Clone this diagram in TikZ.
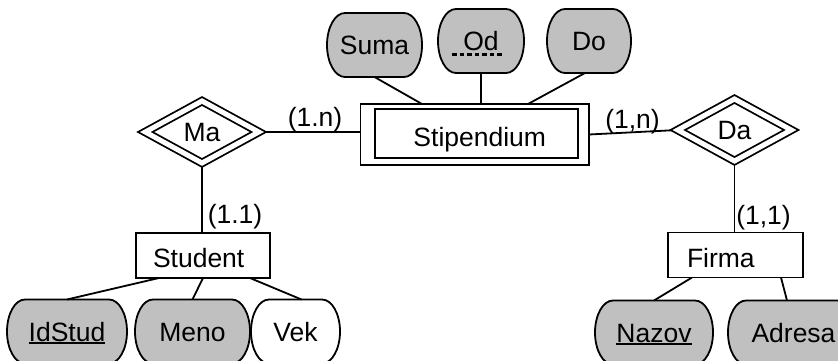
\documentclass[tikz,border=0pt]{standalone}
\usepackage{fontspec}
\setmainfont{Liberation Sans}
\usetikzlibrary{shapes.geometric,backgrounds}
\definecolor{attrgray}{RGB}{192,192,192}

% underlined key attribute
\newcommand\keyul[1]{\setbox0\hbox{#1}\rlap{\rule[-2.5pt]{\wd0}{1.6pt}}\box0}

% outline of an attribute: flat top and bottom, half-elliptic sides
\newcommand\attrshape[2]{%
  \draw[line width=1.8pt, fill=#2]
    ([xshift=18pt]#1.north west) -- ([xshift=-18pt]#1.north east)
    arc[start angle=-90, end angle=90, x radius=18, y radius=32]
    -- ([xshift=18pt]#1.south west)
    arc[start angle=90, end angle=270, x radius=18, y radius=32] -- cycle;}

\tikzset{
  every node/.style={font=\fontsize{26.5}{30}\selectfont, outer sep=0pt},
  conn/.style={line width=1.8pt},
  entity/.style={draw, rectangle, line width=1.8pt, fill=white, minimum height=45pt,
    text height=24pt, text depth=0pt, inner sep=0pt},
  relship/.style={draw, diamond, line width=1.8pt, double, double distance=5pt,
    fill=white, inner sep=0pt, minimum width=113.5pt, minimum height=62pt,
    text height=19pt, text depth=0pt},
  attrib/.style={rectangle, inner sep=0pt, minimum height=64pt,
    text height=19pt, text depth=0pt},
  card/.style={anchor=base, inner sep=0pt},
}

\begin{document}
\begin{tikzpicture}[x=1pt, y=-1pt]
\useasboundingbox (0,0) rectangle (838,361);

% entities
\node[entity, minimum width=228.5pt, minimum height=61pt] (stip) at (474.75,134.5) {\hspace*{10pt}Stipendium};
\draw[line width=1.8pt] ([shift={(14.5,5)}]stip.north west) rectangle ([shift={(-11,-7)}]stip.south east);
\node[entity, minimum width=134pt, text width=100pt, inner xsep=17pt, align=left] (student) at (203,255.5) {Student};
\node[entity, minimum width=135pt, text width=97pt, inner xsep=19pt, align=left] (firma) at (735.5,255) {Firma};

% relationships
\node[relship] (ma) at (202,132) {Ma};
\node[relship] (da) at (734.5,130) {Da};

% attributes
\node[attrib, minimum width=95pt]  (sumaA)   at (374.5,45)   {Suma};
\node[attrib, minimum width=86pt]  (odA)     at (481,41)     {Od};
\node[attrib, minimum width=84pt]  (doA)     at (589,41)     {Do};
\node[attrib, minimum width=120pt] (idstudA) at (67,331.5)   {\keyul{IdStud}};
\node[attrib, minimum width=115pt] (menoA)   at (192.5,331.5) {Meno};
\node[attrib, minimum width=89pt]  (vekA)    at (295.5,331.5) {Vek};
\node[attrib, minimum width=118pt] (nazovA)  at (654,332.5)  {\keyul{Nazov}};
\node[attrib, minimum width=131pt] (adresaA) at (793.5,332.5) {Adresa};

% dotted underline of the partial key
\draw[line width=3pt, dash pattern=on 4.5pt off 3pt]
  ([shift={(-29,14)}]odA.center) -- ([shift={(22,14)}]odA.center);

% cardinalities
\node[card] (c1) at (315,126)   {(1.n)};
\node[card] (c2) at (632.5,128) {(1,n)};
\node[card] (c3) at (235,223)   {(1.1)};
\node[card] (c4) at (763.5,224) {(1,1)};

\begin{scope}[on background layer]
  \attrshape{sumaA}{attrgray}
  \attrshape{odA}{attrgray}
  \attrshape{doA}{attrgray}
  \attrshape{idstudA}{attrgray}
  \attrshape{menoA}{attrgray}
  \attrshape{vekA}{white}
  \attrshape{nazovA}{attrgray}
  \attrshape{adresaA}{attrgray}

  % relationship links
  \draw[conn] (ma.east) -- (ma.east -| stip.west);
  \draw[conn] (stip.east) -- (da.west);
  \draw[conn] (ma.south) -- (ma.south |- student.north);
  \draw[conn] (da.south) -- (da.south |- firma.north);

  % attribute links
  \draw[conn] (sumaA.south) -- ([xshift=-52.75pt]stip.north);
  \draw[conn] (odA.south) -- (odA.south |- stip.north);
  \draw[conn] ([xshift=-4pt]doA.south) -- ([xshift=53.25pt]stip.north);
  \draw[conn] ([xshift=-44pt]student.south) -- (idstudA.north);
  \draw[conn] (student.south) -- (menoA.north);
  \draw[conn] ([xshift=47pt]student.south) -- ([xshift=6pt]vekA.north);
  \draw[conn] ([xshift=-43.5pt]firma.south) -- (nazovA.north);
  \draw[conn] ([xshift=45.5pt]firma.south) -- ([xshift=-6.5pt]adresaA.north);
\end{scope}
\end{tikzpicture}
\end{document}
